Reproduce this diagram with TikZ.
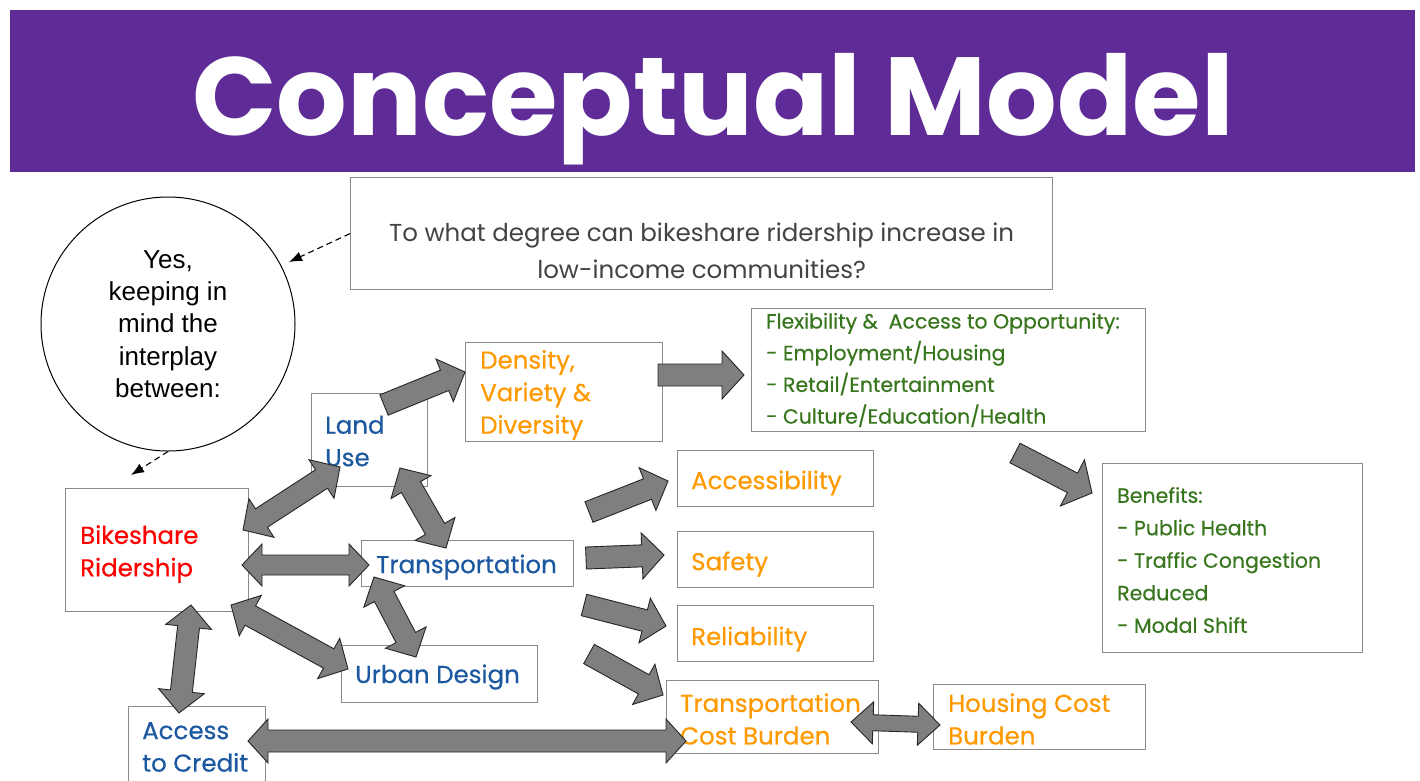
\documentclass[tikz,border=0pt]{standalone}
\usepackage{fontspec}
\setmainfont{Poppins}
\newfontfamily\boxfont{Poppins}[FakeBold=0.4]
\newfontfamily\arialfont{Liberation Sans}
\usetikzlibrary{calc,arrows.meta}

\definecolor{banner}{HTML}{5E2B97}
\definecolor{torange}{HTML}{FF9900}
\definecolor{tblue}{HTML}{1C58A0}
\definecolor{tgreen}{HTML}{38761D}
\definecolor{tred}{HTML}{FF0000}
\definecolor{qgray}{HTML}{434343}
\definecolor{boxline}{HTML}{8A8A8A}
\definecolor{arrowfill}{HTML}{7F7F7F}

% block-arrow geometry: shaft half width, head half width, head length
\def\shw{11pt}\def\hhw{23pt}\def\hl{22pt}

\tikzset{
  box/.style={draw=boxline, line width=1.2pt, anchor=north west, inner sep=0pt},
  label text/.style={anchor=west, inner sep=0pt, align=left,
    font=\boxfont\fontsize{24.5}{32.5}\selectfont},
  green text/.style={label text, text=tgreen, font=\boxfont\fontsize{20.5}{31.7}\selectfont},
  shaft/.code={\def\shw{#1}},
  head/.code={\def\hhw{#1}},
  headlen/.code={\def\hl{#1}},
  blockbase/.style={draw=black!85, line width=0.9pt, fill=arrowfill, line join=miter},
  onearrow/.style={blockbase, to path={
    let \p1=(\tikztostart), \p2=(\tikztotarget),
        \n1={atan2(\y2-\y1,\x2-\x1)}, \n2={veclen(\x2-\x1,\y2-\y1)} in
    ($(\p1)+(\n1+90:\shw)$)
    -- ($(\p1)+(\n1:\n2-\hl)+(\n1+90:\shw)$)
    -- ($(\p1)+(\n1:\n2-\hl)+(\n1+90:\hhw)$)
    -- (\p2)
    -- ($(\p1)+(\n1:\n2-\hl)+(\n1-90:\hhw)$)
    -- ($(\p1)+(\n1:\n2-\hl)+(\n1-90:\shw)$)
    -- ($(\p1)+(\n1-90:\shw)$) -- cycle}},
  twoarrow/.style={blockbase, to path={
    let \p1=(\tikztostart), \p2=(\tikztotarget),
        \n1={atan2(\y2-\y1,\x2-\x1)}, \n2={veclen(\x2-\x1,\y2-\y1)} in
    (\p1)
    -- ($(\p1)+(\n1:\hl)+(\n1+90:\hhw)$)
    -- ($(\p1)+(\n1:\hl)+(\n1+90:\shw)$)
    -- ($(\p1)+(\n1:\n2-\hl)+(\n1+90:\shw)$)
    -- ($(\p1)+(\n1:\n2-\hl)+(\n1+90:\hhw)$)
    -- (\p2)
    -- ($(\p1)+(\n1:\n2-\hl)+(\n1-90:\hhw)$)
    -- ($(\p1)+(\n1:\n2-\hl)+(\n1-90:\shw)$)
    -- ($(\p1)+(\n1:\hl)+(\n1-90:\shw)$)
    -- ($(\p1)+(\n1:\hl)+(\n1-90:\hhw)$) -- cycle}},
  hint/.style={black, line width=1.1pt, dash pattern=on 6pt off 4pt,
    -{Latex[length=13pt,width=10pt]}},
}

\begin{document}
\begin{tikzpicture}[x=1pt,y=-1pt]
\clip (0,0) rectangle (1420,780);
\fill[white] (0,0) rectangle (1420,780);

% title banner
\fill[banner] (10,10) rectangle (1415,172);
\node[text=white, anchor=base, inner sep=0pt,
  font=\fontsize{111}{111}\selectfont\bfseries] (title) at (713,135) {Conceptual Model};

% research question
\node[box, minimum width=702pt, minimum height=112pt] (q) at (350,177) {};
\node[text=qgray, align=center, inner sep=0pt, font=\fontsize{24.5}{37}\selectfont]
  (qt) at ($(q.center)+(0,17)$) {To what degree can bikeshare ridership increase in\\low-income communities?};

% answer bubble
\node[circle, draw=black, line width=1pt, minimum size=254pt, inner sep=0pt, align=center,
  font=\arialfont\fontsize{26}{32.2}\selectfont] (yes) at (168,324)
  {Yes,\\keeping in\\mind the\\interplay\\between:};

% factor boxes
\node[box, minimum width=116pt, minimum height=93pt]  (land)   at (311,393) {};
\node[box, minimum width=197pt, minimum height=99pt]  (dens)   at (465,342) {};
\node[box, minimum width=394pt, minimum height=123pt] (flex)   at (751,308) {};
\node[box, minimum width=260pt, minimum height=189pt] (ben)    at (1102,463) {};
\node[box, minimum width=183pt, minimum height=123pt] (bike)   at (65,488) {};
\node[box, minimum width=212pt, minimum height=46pt]  (trans)  at (361,540) {};
\node[box, minimum width=196pt, minimum height=57pt]  (urban)  at (341,645) {};
\node[box, minimum width=137pt, minimum height=84pt]  (credit) at (128,706) {};
\node[box, minimum width=196pt, minimum height=56pt]  (acc)    at (677,450) {};
\node[box, minimum width=196pt, minimum height=56pt]  (safe)   at (677,531) {};
\node[box, minimum width=196pt, minimum height=56pt]  (rel)    at (677,605) {};
\node[box, minimum width=212pt, minimum height=73pt]  (tcb)    at (666,680) {};
\node[box, minimum width=212pt, minimum height=65pt]  (hcb)    at (933,684) {};

% box captions
\node[label text, text=tblue]   (landt)   at (325,441) {Land\\Use};
\node[label text, text=torange] (denst)   at (480,395) {Density,\\Variety \&\\Diversity};
\node[green text] (flext) at (766,370)
  {Flexibility \&\ \ Access to Opportunity:\\- Employment/Housing\\- Retail/Entertainment\\- Culture/Education/Health};
\node[green text, font=\boxfont\fontsize{20.5}{32.5}\selectfont] (bent) at (1117,560)
  {Benefits:\\- Public Health\\- Traffic Congestion\\Reduced\\- Modal Shift};
\node[label text, text=tred]    (biket)   at (80,554)   {Bikeshare\\Ridership};
\node[label text, text=tblue]   (transt)  at (376,567)  {Transportation};
\node[label text, text=tblue]   (urbant)  at (355,677)  {Urban Design};
\node[label text, text=tblue]   (creditt) at (142,747)  {Access\\to Credit};
\node[label text, text=torange] (acct)    at (691,483)  {Accessibility};
\node[label text, text=torange] (safet)   at (691,564)  {Safety};
\node[label text, text=torange] (relt)    at (691,639)  {Reliability};
\node[label text, text=torange] (tcbt)    at (680,719)  {Transportation\\Cost Burden};
\node[label text, text=torange] (hcbt)    at (948,719)  {Housing Cost\\Burden};

% dashed pointers
\coordinate (yesin) at (289,262);
\coordinate (bikein) at (131,475);
\draw[hint] (q.west) -- (yesin);
\draw[hint] (yes.south) -- (bikein);

% block-arrow end points
\coordinate (landout) at (384,405);  \coordinate (densin) at (465,372);
\coordinate (densout) at (658,375);  \coordinate (flexin) at (744,375);
\coordinate (flexout) at (1015,453); \coordinate (benin) at (1092,493);
\coordinate (bikeL) at (243,530);    \coordinate (landB) at (340,467);
\coordinate (landT) at (400,468);    \coordinate (transL) at (446,548);
\coordinate (bikeT) at (242,565);    \coordinate (transB) at (369,565);
\coordinate (transU) at (374,577);   \coordinate (urbanT) at (416,657);
\coordinate (bikeU) at (231,605);    \coordinate (urbanB) at (348,669);
\coordinate (bikeC) at (191,605);    \coordinate (creditB) at (179,713);
\coordinate (creditT) at (248,741);  \coordinate (tcbC) at (686,741);
\coordinate (tA) at (589,512);       \coordinate (accin) at (668,481);
\coordinate (tS) at (586,558);       \coordinate (safein) at (664,555);
\coordinate (tR) at (584,605);       \coordinate (relin) at (666,626);
\coordinate (tT) at (589,654);       \coordinate (tcbin) at (663,695);
\coordinate (tcbH) at (851,722);     \coordinate (hcbT) at (940,725);

% one-way influences
\draw[onearrow] (landout) to (densin);
\draw[onearrow, head=24pt] (densout) to (flexin);
\draw[onearrow, head=26pt] (flexout) to (benin);
\draw[onearrow] (tA) to (accin);
\draw[onearrow] (tS) to (safein);
\draw[onearrow] (tR) to (relin);
\draw[onearrow] (tT) to (tcbin);

% two-way interplay
\draw[twoarrow] (bikeL) to (landB);
\draw[twoarrow] (landT) to (transL);
\draw[twoarrow, shaft=10pt, head=21pt, headlen=20pt] (bikeT) to (transB);
\draw[twoarrow] (transU) to (urbanT);
\draw[twoarrow] (bikeU) to (urbanB);
\draw[twoarrow] (bikeC) to (creditB);
\draw[twoarrow, shaft=11pt, head=22pt, headlen=20pt] (creditT) to (tcbC);
\draw[twoarrow, shaft=8pt, head=21pt, headlen=22pt] (tcbH) to (hcbT);
\end{tikzpicture}
\end{document}
